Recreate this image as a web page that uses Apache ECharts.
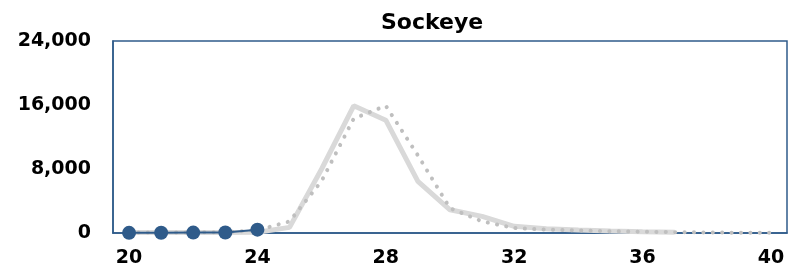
<!DOCTYPE html>
<html>
<head>
<meta charset="utf-8">
<script src="https://cdn.jsdelivr.net/npm/echarts@6/dist/echarts.min.js"></script>
<style>
  html, body { margin: 0; padding: 0; background: #fff; }
  #main { width: 800px; height: 273px; }
</style>
</head>
<body>
<div id="main"></div>
<script>
// days 20..40
var days = ['20','21','22','23','24','25','26','27','28','29','30','31','32','33','34','35','36','37','38','39','40'];
var yTicks = [0, 8000, 16000, 24000];

// current year (blue markers)
var current = [20, 30, 50, 60, 420];
// solid grey line
var avgSolid = [50, 50, 60, 70, 100, 700, 8000, 15900, 14100, 6450, 2900, 2080, 830, 540, 380, 260, 160, 90];
// dotted grey line
var avgDotted = [60, 70, 80, 100, 350, 1450, 6500, 14300, 15900, 9700, 3100, 1450, 620, 420, 320, 220, 160, 110, 60, 40, 30];

var chartDom = document.getElementById('main');
var myChart = echarts.init(chartDom);
var blue = '#2F5B8A';
var font = 'DejaVu Sans';

var option = {
  animation: false,
  title: {
    text: 'Sockeye',
    left: 376,
    top: 7,
    textStyle: { fontFamily: font, fontWeight: 'bold', fontSize: 22, color: '#000' }
  },
  grid: {
    left: 113, right: 13, top: 41, bottom: 40,
    show: true, borderColor: blue, borderWidth: 1.5
  },
  xAxis: {
    type: 'category',
    data: days,
    boundaryGap: true,
    axisTick: { show: false },
    axisLine: { lineStyle: { color: blue, width: 1.5 } },
    axisLabel: {
      interval: 3,
      margin: 16,
      fontFamily: font, fontWeight: 'bold', fontSize: 19, color: '#000'
    }
  },
  yAxis: {
    type: 'value',
    min: yTicks[0],
    max: yTicks[yTicks.length - 1],
    interval: 8000,
    splitLine: { show: false },
    axisTick: { show: false },
    axisLine: { show: true, lineStyle: { color: blue, width: 1.5 } },
    axisLabel: {
      margin: 22,
      fontFamily: font, fontWeight: 'bold', fontSize: 19, color: '#000',
      formatter: function (v) { return v.toLocaleString('en-US'); }
    }
  },
  series: [
    {
      type: 'line',
      data: avgSolid,
      symbol: 'none',
      lineStyle: { color: '#D9D9D9', width: 5 },
      z: 1
    },
    {
      type: 'line',
      data: avgDotted,
      symbol: 'none',
      lineStyle: { color: '#BFBFBF', width: 4, type: [0.1, 9.3], cap: 'round' },
      z: 2
    },
    {
      type: 'line',
      data: current,
      symbol: 'circle',
      symbolSize: 14,
      itemStyle: { color: blue },
      lineStyle: { color: blue, width: 2 },
      z: 3
    }
  ]
};

myChart.setOption(option);
</script>
</body>
</html>
